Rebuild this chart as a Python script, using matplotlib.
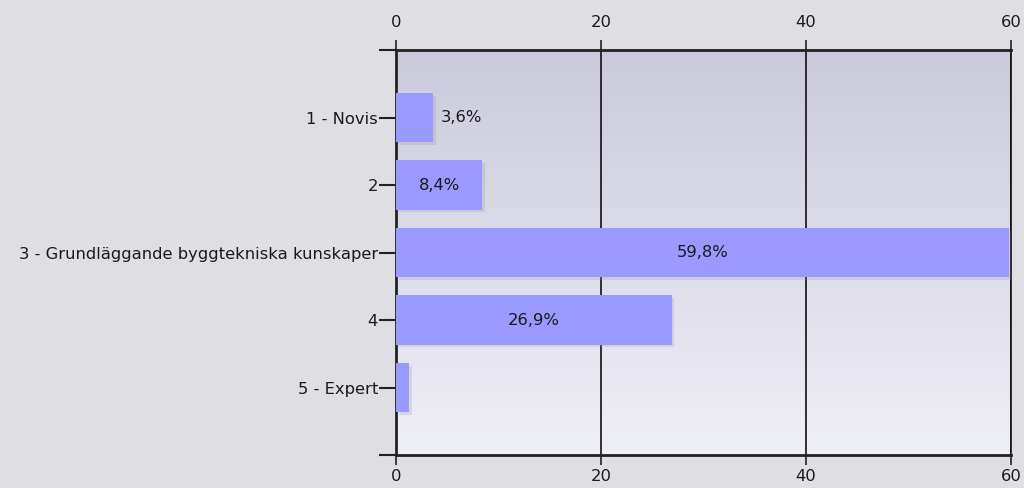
import numpy as np
import matplotlib.pyplot as plt
import matplotlib.patheffects as pe
import matplotlib.transforms as mtransforms
from matplotlib.colors import LinearSegmentedColormap

categories = ["1 - Novis", "2", "3 - Grundläggande byggtekniska kunskaper", "4", "5 - Expert"]
values = [3.6, 8.4, 59.8, 26.9, 1.3]
labels = ["3,6%", "8,4%", "59,8%", "26,9%", ""]
x_ticks = [0, 20, 40, 60]

BAR_COLOR = "#9999ff"
FIG_BG = "#dfdee3"
TXT = "#1a1a1a"
FS = 11.8

fig = plt.figure(figsize=(10.24, 4.88), dpi=100, facecolor=FIG_BG)
ax = fig.add_axes([0.3867, 0.0676, 0.6006, 0.8299])

# gradient plot background
grad = LinearSegmentedColormap.from_list("bg", ["#cbcadc", "#efeff7"])
ax.imshow(np.linspace(0, 1, 256).reshape(-1, 1), cmap=grad, aspect="auto",
          extent=(0, 1, 0, 1), transform=ax.transAxes, zorder=0)
ax.set_xlim(0, 60)
ax.set_ylim(5, -1)

# vertical grid lines
for xt in x_ticks[1:]:
    ax.axvline(xt, color="#111111", linewidth=1.2, zorder=1)

y = np.arange(len(categories))
bars = ax.barh(y, values, height=0.73, color=BAR_COLOR, zorder=3)
for b in bars:
    b.set_path_effects([pe.SimplePatchShadow(offset=(2, -2), shadow_rgbFace="#999999", alpha=0.25),
                        pe.Normal()])

for yi, v, lab in zip(y, values, labels):
    if not lab:
        continue
    if v > 6:
        ax.text(v / 2, yi, lab, ha="center", va="center", fontsize=FS, color=TXT, zorder=4)
    else:
        ax.text(v + 0.8, yi, lab, ha="left", va="center", fontsize=FS, color=TXT, zorder=4)

ax.set_yticks(y)
ax.set_yticklabels(categories, fontsize=FS, color=TXT)
ax.set_yticks([-1, 5], minor=True)
ax.tick_params(axis="y", which="both", length=12, width=1.5, color="#222222", pad=1)

ax.set_xticks(x_ticks)
ax.set_xticklabels([str(t) for t in x_ticks], fontsize=FS, color=TXT)
ax.tick_params(axis="x", top=True, labeltop=True, bottom=True, labelbottom=True,
               length=7, width=1.2, color="#222222", pad=3)
# extra gap above the top labels, as in the original
shift = mtransforms.ScaledTranslation(0, 6 / 100, fig.dpi_scale_trans)
for t in ax.xaxis.get_major_ticks():
    t.label2.set_transform(t.label2.get_transform() + shift)

for side in ["left", "top", "bottom"]:
    ax.spines[side].set_linewidth(2)
    ax.spines[side].set_color("#222222")
ax.spines["right"].set_linewidth(1.2)
ax.spines["right"].set_color("#111111")

fig.savefig("out.png", dpi=100, facecolor=FIG_BG)
